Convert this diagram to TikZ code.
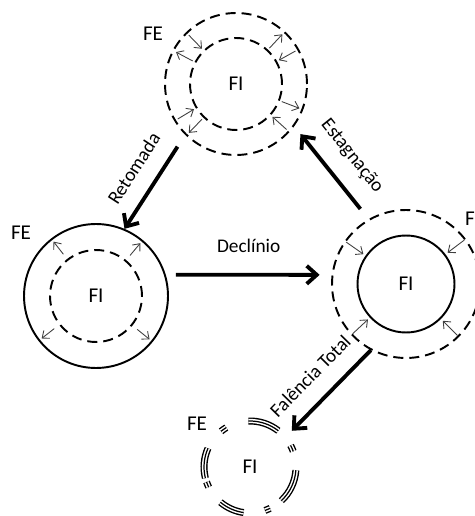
\documentclass[tikz,border=0pt]{standalone}
\usepackage{fontspec}
\setmainfont{Carlito}
\usetikzlibrary{arrows.meta,calc}

\begin{document}
\begin{tikzpicture}[x=0.02cm, y=-0.02cm,
    cir/.style={draw, circle, line width=1.1pt, inner sep=0pt, font=\fontsize{12}{14}\selectfont},
    dcir/.style={cir, dash pattern=on 0.2cm off 0.12cm},
    arr/.style={-{Straight Barb[length=0.2cm, width=0.36cm]}, line width=2.2pt},
    sml/.style={-{Straight Barb[length=0.12cm, width=0.2cm]}, line width=0.5pt, black!75},
    lbl/.style={font=\fontsize{11}{13}\selectfont, sloped, above=6pt},
    fe/.style={font=\fontsize{12}{14}\selectfont},
    brk/.style={line width=4pt},
    brkw/.style={white, line width=2.4pt},
    brkc/.style={line width=0.7pt}
]
\useasboundingbox (0,0) rectangle (475,516);

\node[dcir, minimum size=2.84cm] (T) at (236,84) {};
\node[dcir, minimum size=1.84cm] (Ti) at (236,84) {FI};
\node[cir, minimum size=2.88cm] (L) at (96,296) {};
\node[dcir, minimum size=1.84cm] (Li) at (96,296) {FI};
\node[dcir, minimum size=2.96cm] (R) at (406,284) {};
\node[cir, minimum size=1.94cm] (Ri) at (406,284) {FI};
\node[circle, inner sep=0pt, minimum size=1.84cm, fe] (B) at (250,467) {FI};

\node[fe] (feT) at (153,34) {FE};
\node[fe] (feL) at (21,233) {FE};
\node[fe] (feR) at (475,219) {FE};
\node[fe] (feB) at (197,424) {FE};

% broken circle
\foreach \s/\e in {52/92,121/129,156/194,199/206,230/262,289/296,313/356,20/28}
  \foreach \st in {brk,brkw,brkc}
    \draw[\st] ($(B.center)+(\s:0.92cm)$) arc[start angle=\s, end angle=\e, radius=0.92cm];

% small arrows
\foreach \a in {128,50,218,-39}
  \draw[sml] ($(L.center)+(\a:1.06cm)$) -- ($(L.center)+(\a:1.38cm)$);
\foreach \a in {145,37,223,-45}
  \draw[sml] ($(R.center)+(\a:1.46cm)$) -- ($(R.center)+(\a:1.04cm)$);
\foreach \a in {134,29,-42,211}
  \draw[sml] ($(T.center)+(\a:1.36cm)$) -- ($(T.center)+(\a:0.98cm)$);
\foreach \a in {152,47,-21,226}
  \draw[sml] ($(T.center)+(\a:0.98cm)$) -- ($(T.center)+(\a:1.36cm)$);

\draw[arr, shorten <=0.28cm] (T.225) -- node[lbl] {Retomada} (L.67);
\draw[arr, shorten <=0.2cm, shorten >=0.24cm] (L.17) -- node[lbl, above=2pt] {Declínio} (R.173);
\draw[arr, shorten <=0.26cm, shorten >=0.2cm] (R.120) -- node[lbl] {Estagnação} (T.-36);
\draw[arr, shorten >=0.18cm] (R.242) -- node[lbl] {Falência Total} (B.40);
\end{tikzpicture}
\end{document}
